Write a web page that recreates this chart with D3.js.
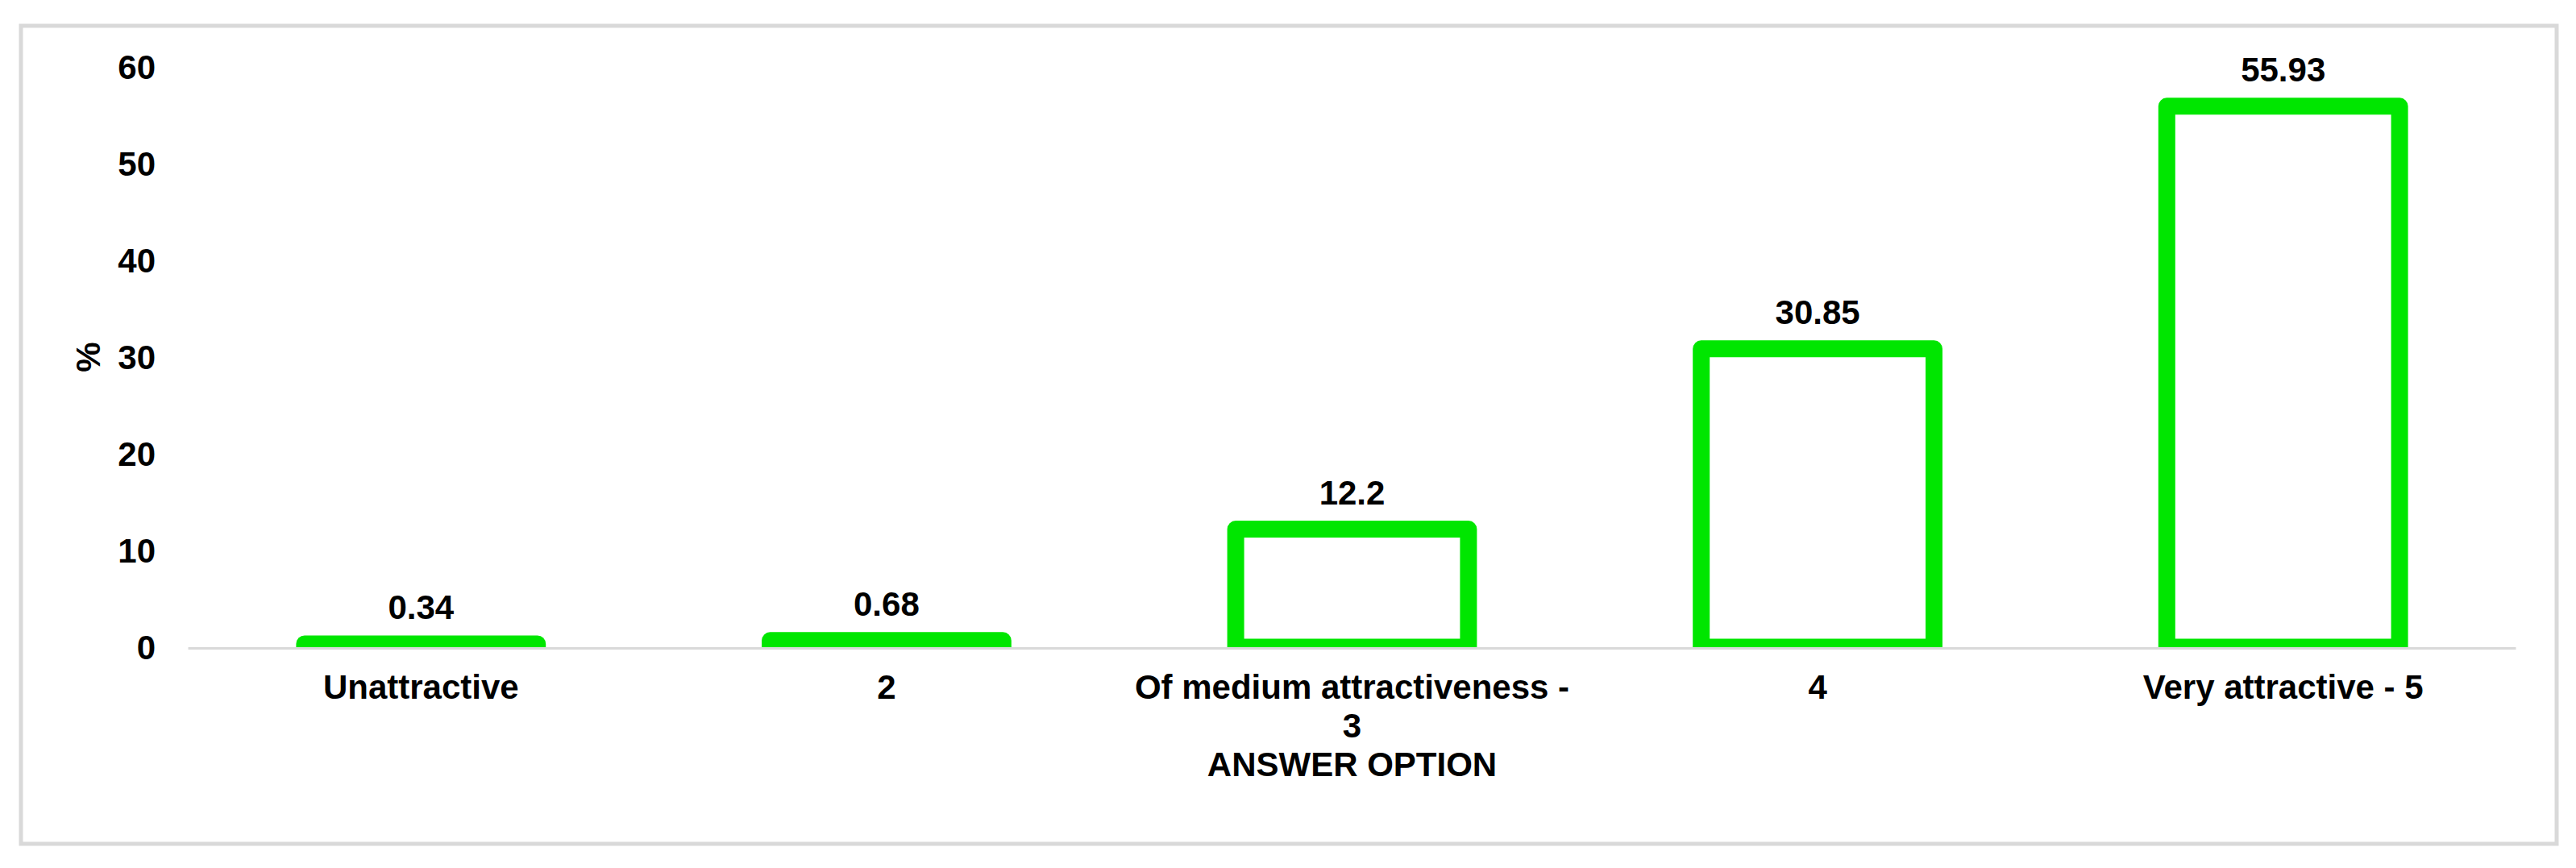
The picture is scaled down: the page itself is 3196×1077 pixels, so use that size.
<!DOCTYPE html>
<html>
<head>
<meta charset="utf-8">
<script src="https://cdn.jsdelivr.net/npm/d3@7/dist/d3.min.js"></script>
<style>
  html, body { margin: 0; padding: 0; background: #ffffff; }
  svg { display: block; }
  text { font-family: "Liberation Sans", Arial, sans-serif; font-weight: bold; fill: #000; }
</style>
</head>
<body>
<svg id="chart" width="3196" height="1077"></svg>
<script>
// ---- data ----
const categories = ["Unattractive", "2", "Of medium attractiveness -\n3", "4", "Very attractive - 5"];
const values = [0.34, 0.68, 12.2, 30.85, 55.93];
const yTicks = [0, 10, 20, 30, 40, 50, 60];
const yAxisTitle = "%";
const xAxisTitle = "ANSWER OPTION";

// ---- layout ----
const W = 3196, H = 1077;
const svg = d3.select("#chart");
const fontSize = 42;
const green = "#00e600";
const grey = "#d9d9d9";

// outer frame
svg.append("rect")
  .attr("x", 26).attr("y", 32)
  .attr("width", 3146).attr("height", 1015)
  .attr("fill", "#fff")
  .attr("stroke", grey).attr("stroke-width", 5);

const x = d3.scaleBand()
  .domain(categories)
  .range([233.5, 3121.5])
  .paddingInner(0.5)
  .paddingOuter(0.25);

const y = d3.scaleLinear()
  .domain([0, 60])
  .range([803, 83]);

// clip so bar strokes stop at the axis
svg.append("defs").append("clipPath").attr("id", "plotclip")
  .append("rect")
  .attr("x", 0).attr("y", 0)
  .attr("width", W).attr("height", y(0));

// y tick labels
svg.append("g").selectAll("text")
  .data(yTicks)
  .join("text")
  .attr("x", 193)
  .attr("y", d => y(d))
  .attr("dy", "0.36em")
  .attr("text-anchor", "end")
  .attr("font-size", fontSize)
  .text(d => d);

// y axis title
svg.append("text")
  .attr("transform", `translate(${124},${(y(0) + y(60)) / 2}) rotate(-90)`)
  .attr("text-anchor", "middle")
  .attr("font-size", fontSize)
  .text(yAxisTitle);

// bars (outlined)
svg.append("g")
  .attr("clip-path", "url(#plotclip)")
  .selectAll("rect")
  .data(values)
  .join("rect")
  .attr("x", (d, i) => x(categories[i]))
  .attr("y", d => y(d))
  .attr("width", x.bandwidth())
  .attr("height", d => y(0) - y(d))
  .attr("fill", "none")
  .attr("stroke", green)
  .attr("stroke-width", 21)
  .attr("stroke-linejoin", "round");

// x axis line
svg.append("line")
  .attr("x1", x.range()[0]).attr("x2", x.range()[1])
  .attr("y1", y(0) + 1.5).attr("y2", y(0) + 1.5)
  .attr("stroke", grey).attr("stroke-width", 3);

// value labels
svg.append("g").selectAll("text")
  .data(values)
  .join("text")
  .attr("x", (d, i) => x(categories[i]) + x.bandwidth() / 2)
  .attr("y", d => y(d) - 31)
  .attr("text-anchor", "middle")
  .attr("font-size", fontSize)
  .text(d => d);

// category labels
const cat = svg.append("g").selectAll("text")
  .data(categories)
  .join("text")
  .attr("x", d => x(d) + x.bandwidth() / 2)
  .attr("y", 867)
  .attr("text-anchor", "middle")
  .attr("font-size", fontSize);
cat.each(function(d) {
  const t = d3.select(this);
  d.split("\n").forEach((line, k) => {
    t.append("tspan")
      .attr("x", x(d) + x.bandwidth() / 2)
      .attr("dy", k === 0 ? 0 : 48)
      .text(line);
  });
});

// x axis title
svg.append("text")
  .attr("x", (x.range()[0] + x.range()[1]) / 2)
  .attr("y", 963)
  .attr("text-anchor", "middle")
  .attr("font-size", fontSize)
  .text(xAxisTitle);
</script>
</body>
</html>
